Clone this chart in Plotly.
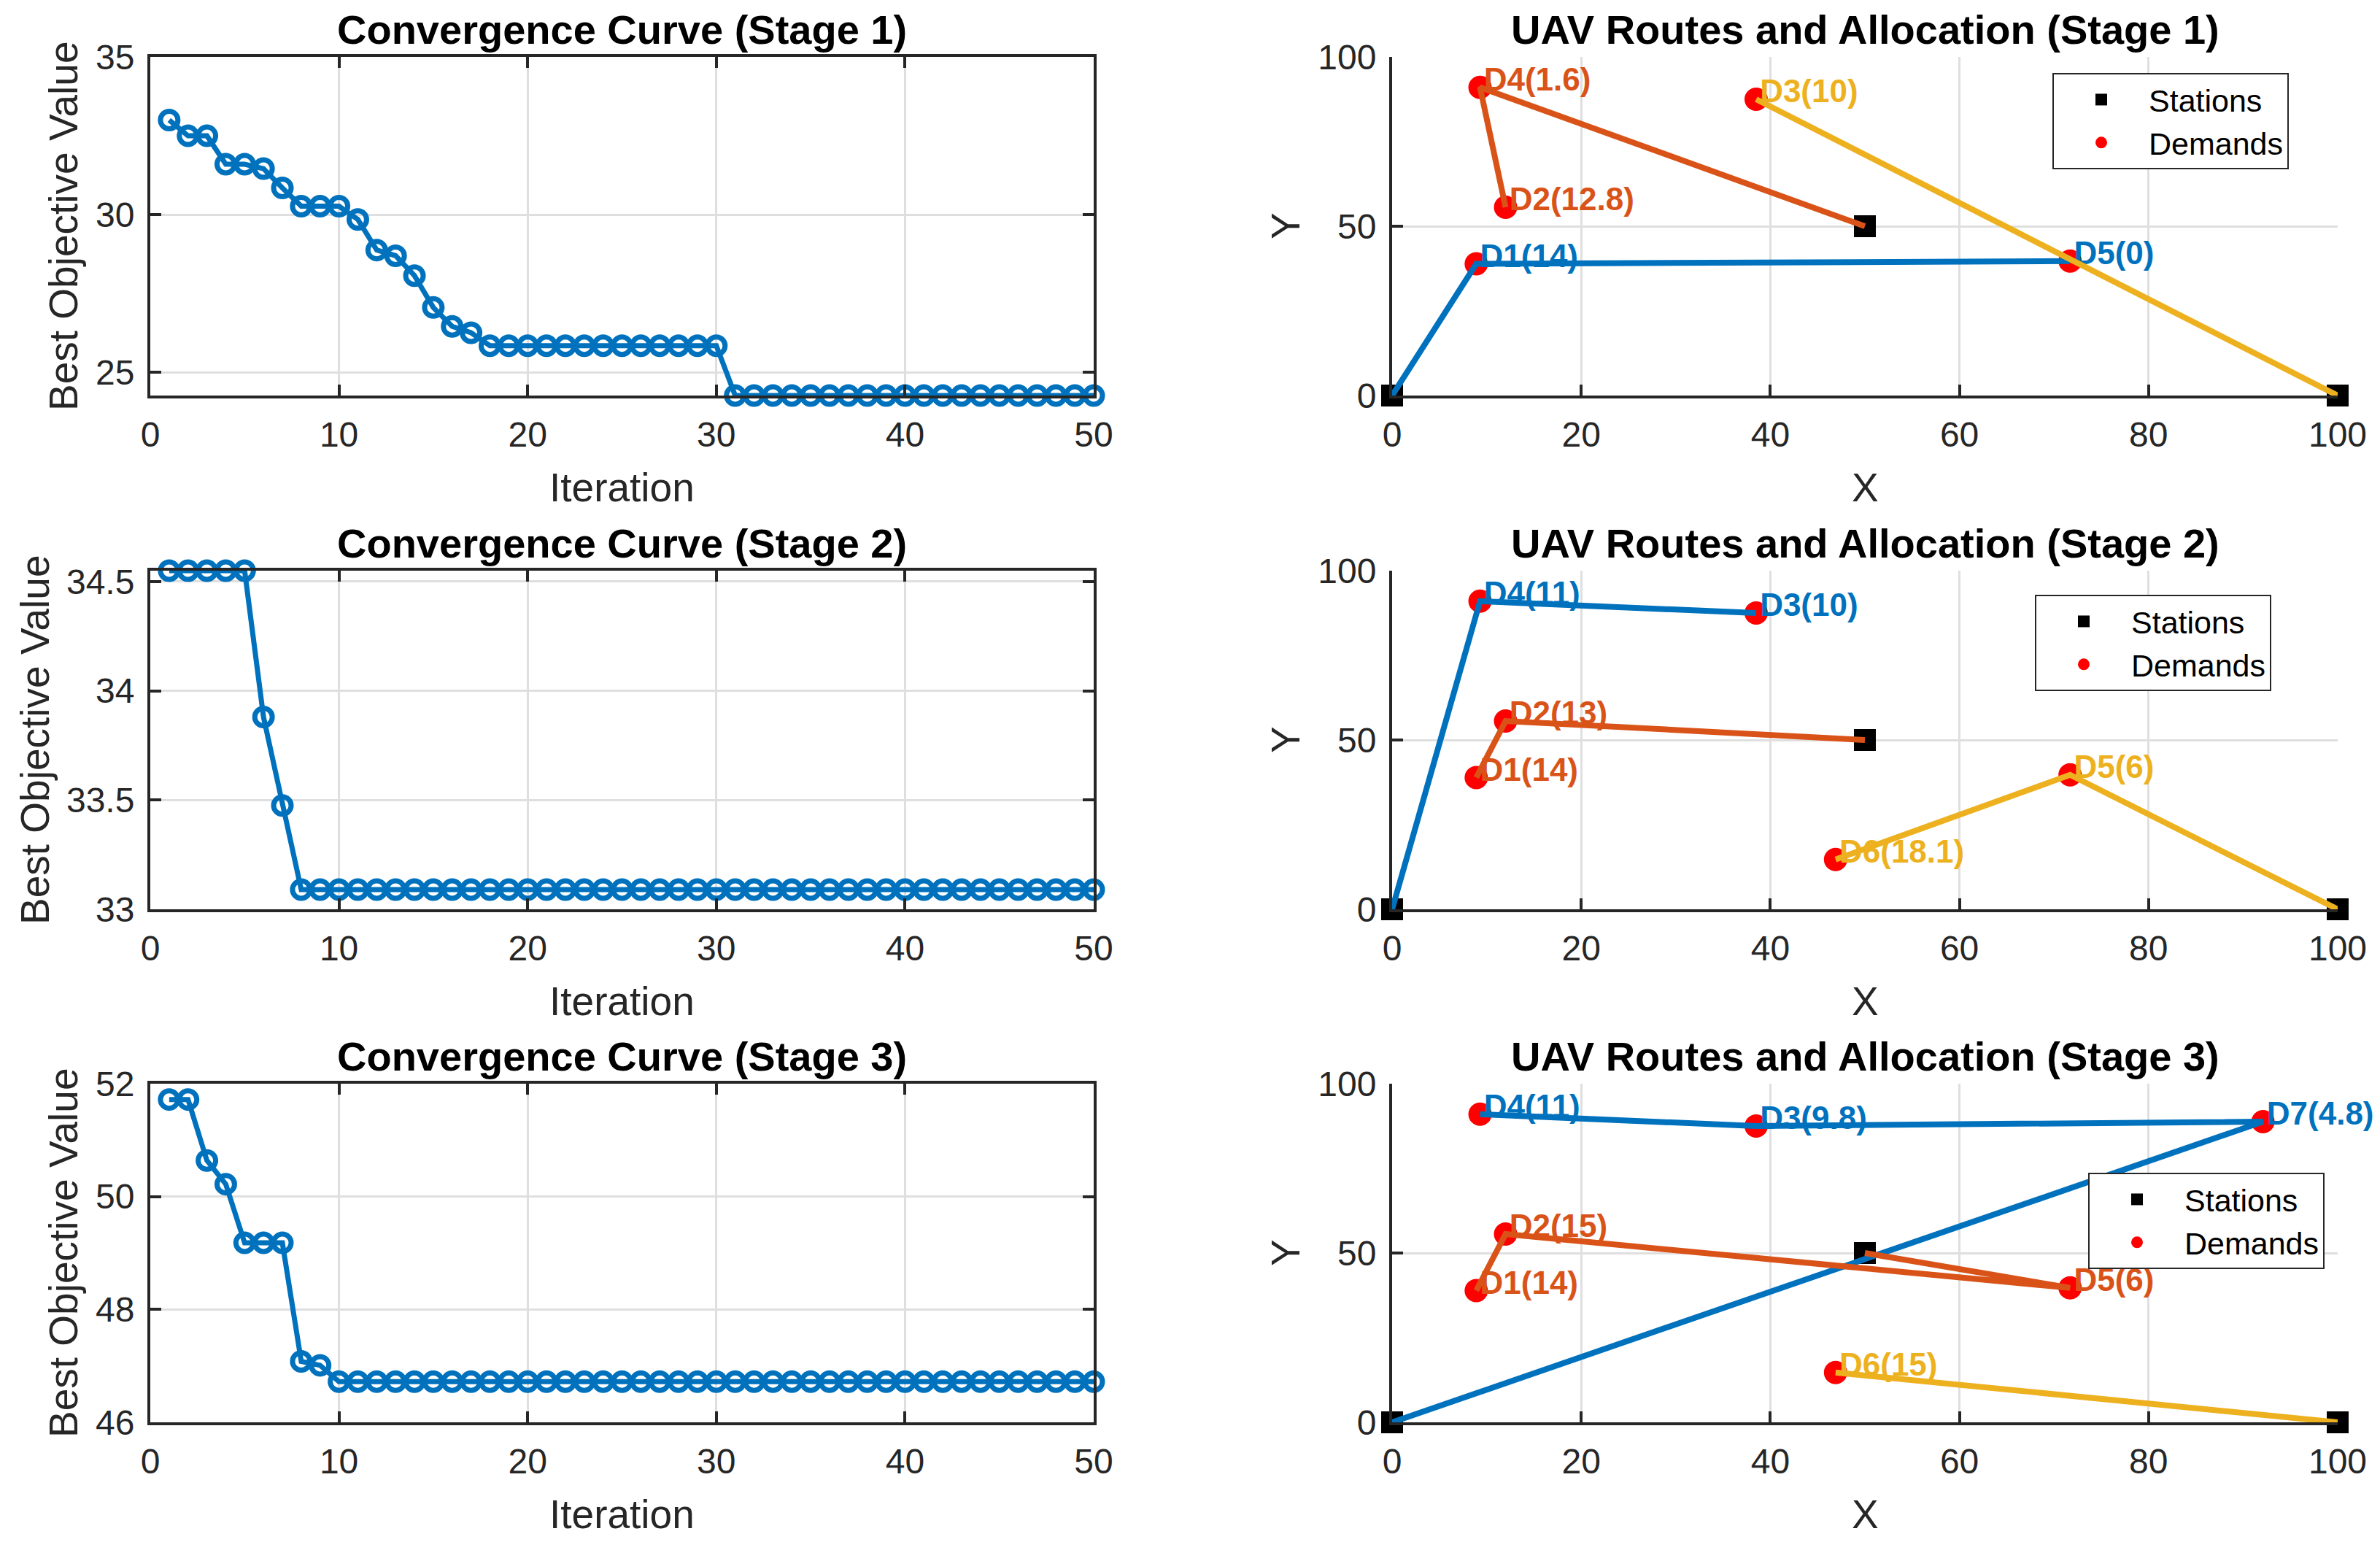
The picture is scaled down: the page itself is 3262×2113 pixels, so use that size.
import plotly.graph_objects as go

# ---------------- data ----------------
iterations = list(range(1, 51))

stage1_best = [33.0, 32.5, 32.5, 31.6, 31.6, 31.46, 30.85, 30.27, 30.27, 30.27,
               29.85, 28.88, 28.7, 28.07, 27.06, 26.46, 26.26, 25.85, 25.85, 25.85,
               25.85, 25.85, 25.85, 25.85, 25.85, 25.85, 25.85, 25.85, 25.85, 25.85,
               24.27, 24.27, 24.27, 24.27, 24.27, 24.27, 24.27, 24.27, 24.27, 24.27,
               24.27, 24.27, 24.27, 24.27, 24.27, 24.27, 24.27, 24.27, 24.27, 24.27]
stage2_best = [34.55, 34.55, 34.55, 34.55, 34.55, 33.88, 33.475, 33.09, 33.09, 33.09,
               33.09, 33.09, 33.09, 33.09, 33.09, 33.09, 33.09, 33.09, 33.09, 33.09,
               33.09, 33.09, 33.09, 33.09, 33.09, 33.09, 33.09, 33.09, 33.09, 33.09,
               33.09, 33.09, 33.09, 33.09, 33.09, 33.09, 33.09, 33.09, 33.09, 33.09,
               33.09, 33.09, 33.09, 33.09, 33.09, 33.09, 33.09, 33.09, 33.09, 33.09]
stage3_best = [51.72, 51.72, 50.64, 50.22, 49.18, 49.18, 49.18, 47.08, 47.01, 46.72,
               46.72, 46.72, 46.72, 46.72, 46.72, 46.72, 46.72, 46.72, 46.72, 46.72,
               46.72, 46.72, 46.72, 46.72, 46.72, 46.72, 46.72, 46.72, 46.72, 46.72,
               46.72, 46.72, 46.72, 46.72, 46.72, 46.72, 46.72, 46.72, 46.72, 46.72,
               46.72, 46.72, 46.72, 46.72, 46.72, 46.72, 46.72, 46.72, 46.72, 46.72]

station_x = [0, 50, 100]
station_y = [0, 50, 0]

demand_names = ["D1", "D2", "D3", "D4", "D5", "D6", "D7"]
demand_x = [8.9, 12.0, 38.5, 9.3, 71.7, 46.9, 92.1]
demand_y = [38.9, 55.6, 87.5, 91.0, 39.7, 14.7, 88.8]

stage1_alloc = [14, 12.8, 10, 1.6, 0]
stage2_alloc = [14, 13, 10, 11, 6, 18.1]
stage3_alloc = [14, 15, 9.8, 11, 6, 15, 4.8]

# routes: one per UAV, UAV k starts at station k
stage1_routes = [["D1", "D5"], ["D4", "D2"], ["D3"]]
stage2_routes = [["D4", "D3"], ["D2", "D1"], ["D5", "D6"]]
stage3_routes = [["D7", "D3", "D4"], ["D5", "D2", "D1"], ["D6"]]

conv_tickvals = [[25, 30, 35], [33, 33.5, 34, 34.5], [46, 48, 50, 52]]
conv_ranges = [[24.27, 35], [33, 34.55], [46, 52]]

# ---------------- style ----------------
W, H = 3262, 2113          # window size
OFF = 8                    # page body margin (figure starts at OFF, OFF)
FW, FH = W - OFF, H - OFF  # figure size
FONT = "Liberation Sans, Arial, Helvetica, sans-serif"
AX = "#262626"
GRID = "#DFDFDF"
BLUE = "#0072BD"
UAV_COLORS = ["#0072BD", "#D95319", "#EDB120"]


def px_x(p):
    return (p - OFF) / FW


def px_y(p):
    return 1 - (p - OFF) / FH


left_x = [px_x(206), px_x(1499)]
right_x = [px_x(1908), px_x(3204)]
rows_px = [(78, 542), (782, 1246), (1485, 1949)]
rows_y = [[px_y(b), px_y(t)] for t, b in rows_px]
conv_ylabel_px = [87, 48, 87]
route_ylabel_px = 1762

legend_pos = [(px_x(2813), px_y(100)), (px_x(2789), px_y(815)), (px_x(2862), px_y(1607))]

best_all = [stage1_best, stage2_best, stage3_best]
alloc_all = [stage1_alloc, stage2_alloc, stage3_alloc]
routes_all = [stage1_routes, stage2_routes, stage3_routes]

fig = go.Figure()
layout = {}
annotations = []


def axname(n):
    return ("" if n == 1 else str(n))


def fmt(v):
    return ("%g" % v)


def add_titles(xdom, ydom, xtitle, ytitle, ylabel_px, main):
    xc = (xdom[0] + xdom[1]) / 2
    annotations.append(dict(
        text="<b>%s</b>" % main, x=xc, y=ydom[1], xref="paper", yref="paper",
        xanchor="center", yanchor="bottom", yshift=5, showarrow=False, borderpad=0,
        font=dict(family=FONT, size=56, color="black"),
    ))
    annotations.append(dict(
        text=xtitle, x=xc, y=ydom[0], xref="paper", yref="paper",
        xanchor="center", yanchor="middle", yshift=-126, showarrow=False,
        font=dict(family=FONT, size=55, color=AX),
    ))
    annotations.append(dict(
        text=ytitle, x=px_x(ylabel_px), y=(ydom[0] + ydom[1]) / 2, xref="paper", yref="paper",
        xanchor="center", yanchor="middle", textangle=-90, showarrow=False,
        font=dict(family=FONT, size=55, color=AX),
    ))


common_axis = dict(
    showline=True, linecolor=AX, linewidth=4,
    ticks="inside", ticklen=15, tickwidth=4, tickcolor=AX,
    showgrid=True, gridcolor=GRID, gridwidth=3,
    zeroline=False,
    tickfont=dict(family=FONT, size=48, color=AX),
    automargin=False,
)

for s in range(3):
    cn = 2 * s + 1   # convergence axes number
    rn = 2 * s + 2   # route axes number
    ydom = rows_y[s]

    # ---- convergence curve ----
    fig.add_trace(go.Scatter(
        x=iterations, y=best_all[s], mode="lines+markers",
        line=dict(color=BLUE, width=7),
        marker=dict(symbol="circle-open", size=24, color=BLUE, line=dict(width=7, color=BLUE)),
        xaxis="x" + axname(cn), yaxis="y" + axname(cn),
        showlegend=False, cliponaxis=False,
    ))
    layout["xaxis" + axname(cn)] = dict(
        common_axis, domain=left_x, anchor="y" + axname(cn), range=[0, 50],
        tickvals=[0, 10, 20, 30, 40, 50], mirror="ticks", ticklabelstandoff=8,
    )
    layout["yaxis" + axname(cn)] = dict(
        common_axis, domain=ydom, anchor="x" + axname(cn), range=conv_ranges[s],
        tickvals=conv_tickvals[s], mirror="ticks", ticklabelstandoff=8,
    )
    add_titles(left_x, ydom, "Iteration", "Best Objective Value", conv_ylabel_px[s],
               "Convergence Curve (Stage %d)" % (s + 1))

    # ---- routes plot ----
    xa, ya = "x" + axname(rn), "y" + axname(rn)
    leg = "legend" + ("" if s == 0 else str(s + 1))
    n_dem = len(alloc_all[s])
    dx = demand_x[:n_dem]
    dy = demand_y[:n_dem]
    routes = routes_all[s]

    fig.add_trace(go.Scatter(
        x=station_x, y=station_y, mode="markers", name="Stations",
        marker=dict(symbol="square", size=30, color="black"),
        xaxis=xa, yaxis=ya, legend=leg, showlegend=True, cliponaxis=False,
    ))
    fig.add_trace(go.Scatter(
        x=dx, y=dy, mode="markers", name="Demands",
        marker=dict(symbol="circle", size=32, color="#FF0000"),
        xaxis=xa, yaxis=ya, legend=leg, showlegend=True, cliponaxis=False,
    ))

    # labels (coloured by serving UAV), drawn beneath the routes
    for k, route in enumerate(routes):
        idx = [demand_names.index(d) for d in route]
        fig.add_trace(go.Scatter(
            x=[demand_x[i] + 0.4 for i in idx], y=[demand_y[i] + 1.5 for i in idx],
            mode="text", textposition="middle right",
            text=["<b>%s(%s)</b>" % (demand_names[i], fmt(alloc_all[s][i])) for i in idx],
            textfont=dict(family=FONT, size=44, color=UAV_COLORS[k]),
            xaxis=xa, yaxis=ya, showlegend=False, cliponaxis=False, hoverinfo="skip",
        ))

    for k, route in enumerate(routes):
        idx = [demand_names.index(d) for d in route]
        fig.add_trace(go.Scatter(
            x=[station_x[k]] + [demand_x[i] for i in idx],
            y=[station_y[k]] + [demand_y[i] for i in idx],
            mode="lines", line=dict(color=UAV_COLORS[k], width=8),
            xaxis=xa, yaxis=ya, showlegend=False, cliponaxis=False,
        ))

    layout["xaxis" + axname(rn)] = dict(
        common_axis, domain=right_x, anchor=ya, range=[0, 100],
        tickvals=[0, 20, 40, 60, 80, 100], mirror=False, ticklabelstandoff=8,
    )
    layout["yaxis" + axname(rn)] = dict(
        common_axis, domain=ydom, anchor=xa, range=[0, 100],
        tickvals=[0, 50, 100], mirror=False, ticklabelstandoff=8,
    )
    add_titles(right_x, ydom, "X", "Y", route_ylabel_px,
               "UAV Routes and Allocation (Stage %d)" % (s + 1))

    layout[leg] = dict(
        x=legend_pos[s][0], y=legend_pos[s][1], xanchor="left", yanchor="top",
        xref="paper", yref="paper",
        bgcolor="white", bordercolor=AX, borderwidth=2,
        font=dict(family=FONT, size=43, color="black"),
        itemwidth=120, tracegroupgap=0,
    )

fig.update_layout(
    width=FW, height=FH,
    margin=dict(l=0, r=0, t=0, b=0, pad=0),
    paper_bgcolor="white", plot_bgcolor="white",
    annotations=annotations,
    font=dict(family=FONT, color=AX),
    **layout,
)

fig.write_html("out.html")
